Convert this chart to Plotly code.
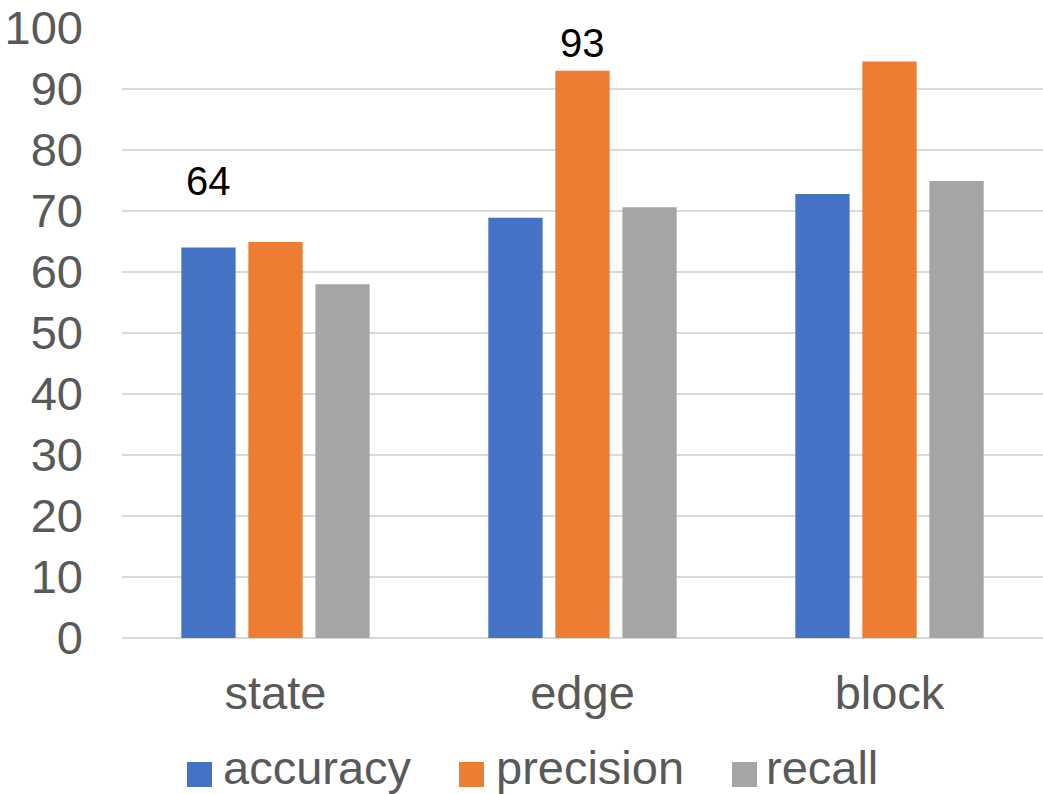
import plotly.graph_objects as go

# ---- data ----
categories = ["state", "edge", "block"]
series_names = ["accuracy", "precision", "recall"]
accuracy = [64, 68.9, 72.8]
precision = [64.9, 93, 94.5]
recall = [58.0, 70.6, 74.9]
y_ticks = [0, 10, 20, 30, 40, 50, 60, 70, 80, 90, 100]

# which bars carry a value label: (series index, category index)
labelled = [(0, 0), (1, 1)]

# ---- styling ----
colors = ["#4472C4", "#ED7D31", "#A5A5A5"]
FONT = "Liberation Sans, Arial, sans-serif"
AXIS_GRAY = "#595959"
GRID = "#D9D9D9"
W, H = 1043, 794
M = dict(l=122, r=0, t=28, b=156)
BARGAP = 0.345
GROUPGAP = 0.19
label_lift = {(0, 0): 11.0, (1, 1): 4.6}   # extra height above the bar, in axis units

values = [accuracy, precision, recall]

fig = go.Figure()
for name, vals, col in zip(series_names, values, colors):
    fig.add_trace(go.Bar(
        name=name, x=categories, y=vals,
        marker=dict(color=col, line=dict(width=0)),
        showlegend=False,
    ))

# value labels above selected bars
slot = (1 - BARGAP) / len(series_names)
for si, ci in labelled:
    v = values[si][ci]
    fig.add_annotation(
        x=ci + (si - (len(series_names) - 1) / 2) * slot,
        y=v + label_lift[(si, ci)],
        xref="x", yref="y",
        text=f"{v:.0f}", showarrow=False,
        xanchor="center", yanchor="middle",
        font=dict(family=FONT, size=40, color="#000000"),
    )

# legend drawn below the plot: coloured squares and names
pw = W - M["l"] - M["r"]
ph = H - M["t"] - M["b"]


def px_x(px):
    return (px - M["l"]) / pw


def px_y(py):
    return (H - M["b"] - py) / ph


legend_square_x = [187, 459, 732]
legend_text_x = [223, 496, 766]
sq = 25
sq_top = 762
for name, col, sx, tx in zip(series_names, colors, legend_square_x, legend_text_x):
    fig.add_shape(
        type="rect", xref="paper", yref="paper",
        x0=px_x(sx), x1=px_x(sx + sq),
        y0=px_y(sq_top + sq), y1=px_y(sq_top),
        fillcolor=col, line=dict(width=0),
    )
    fig.add_annotation(
        x=px_x(tx), y=px_y(H), xref="paper", yref="paper",
        text=name, showarrow=False, xanchor="left", yanchor="bottom",
        borderpad=0, borderwidth=0,
        font=dict(family=FONT, size=47, color=AXIS_GRAY),
    )

fig.update_layout(
    width=W, height=H,
    margin=M,
    paper_bgcolor="white", plot_bgcolor="white",
    barmode="group", bargap=BARGAP, bargroupgap=GROUPGAP,
    font=dict(family=FONT, color=AXIS_GRAY),
    showlegend=False,
)
fig.update_xaxes(
    type="category", automargin=False,
    tickfont=dict(family=FONT, size=47, color=AXIS_GRAY),
    showgrid=False, showline=False, ticks="",
    ticklabelstandoff=23,
)
fig.update_yaxes(
    range=[0, 100], tickvals=y_ticks, automargin=False,
    tickfont=dict(family=FONT, size=47, color=AXIS_GRAY),
    showgrid=True, gridcolor=GRID, gridwidth=2,
    zeroline=True, zerolinecolor=GRID, zerolinewidth=2,
    showline=False, ticks="",
    ticklabelstandoff=38,
    ticklabeloverflow="allow",
)

fig.write_html("out.html")
